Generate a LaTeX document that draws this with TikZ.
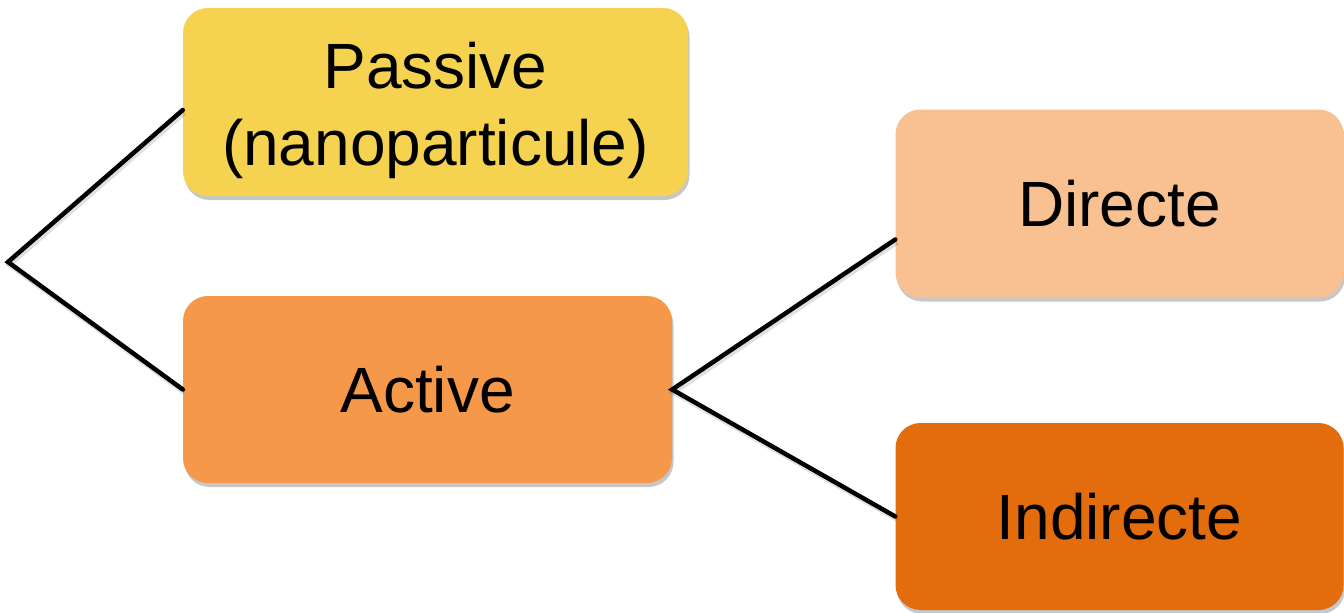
\documentclass[tikz,border=0pt]{standalone}
\usepackage{fontspec}
\setmainfont{Liberation Sans}
\usetikzlibrary{shadows}
\definecolor{cpassive}{HTML}{F5D350}
\definecolor{cactive}{HTML}{F5984A}
\definecolor{cdirecte}{HTML}{F9C091}
\definecolor{cindirecte}{HTML}{E36C0C}
\tikzset{
  box/.style={rounded corners=25pt, inner sep=0pt, align=center,
    font=\fontsize{64}{77}\selectfont,
    drop shadow={shadow xshift=1.5pt, shadow yshift=-4pt, fill=black, opacity=0.22}},
  link/.style={line width=4.5pt, black, line cap=round, line join=miter,
    preaction={draw, black, opacity=0.12, line width=5.5pt, transform canvas={shift={(1.5pt,-2.5pt)}}}}
}
\begin{document}
\begin{tikzpicture}[x=1pt, y=-1pt]
\useasboundingbox (0,0) rectangle (1344,613);
\node[box, fill=cpassive, minimum width=505pt, minimum height=188pt] (passive) at (435.5,102) {\rule{0pt}{64pt}Passive\\(nanoparticule)};
\node[box, fill=cactive, minimum width=489pt, minimum height=187pt] (active) at (427.5,389.5) {Active};
\node[box, fill=cdirecte, minimum width=448pt, minimum height=188pt] (directe) at (1119.5,203.5) {Directe};
\node[box, fill=cindirecte, minimum width=448pt, minimum height=187pt] (indirecte) at (1119.5,516.5) {Indirecte};
\coordinate (root) at (8,262);
\draw[link] ([yshift=-8pt]passive.west) -- (root) -- (active.west);
\draw[link] ([yshift=-36pt]directe.west) -- (active.east) -- (indirecte.west);
\end{tikzpicture}
\end{document}
